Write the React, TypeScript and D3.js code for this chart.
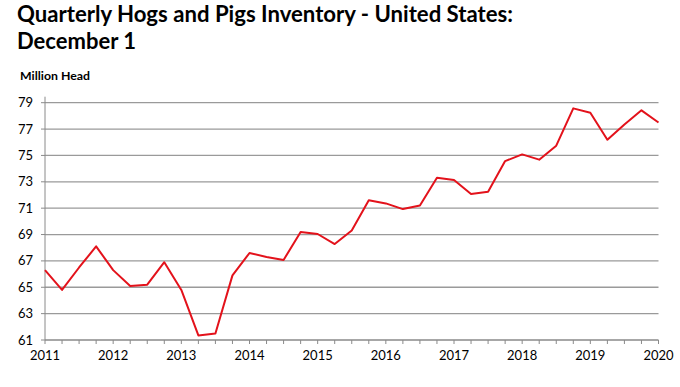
import React from "react";
import * as d3 from "d3";

const years = [2011, 2012, 2013, 2014, 2015, 2016, 2017, 2018, 2019, 2020];
const yTicks = [61, 63, 65, 67, 69, 71, 73, 75, 77, 79];
// Quarterly inventory (million head), 2011 Q1 .. 2020 Q1
const values = [
  66.3, 64.8, 66.5, 68.1,
  66.3, 65.1, 65.2, 66.9,
  64.8, 61.35, 61.5, 65.9,
  67.6, 67.3, 67.07, 69.2,
  69.04, 68.28, 69.3, 71.6,
  71.36, 70.93, 71.2, 73.3,
  73.13, 72.07, 72.25, 74.57,
  75.08, 74.68, 75.74, 78.57,
  78.24, 76.19, 77.35, 78.42,
  77.5,
];

export default function App() {
  const W = 680, H = 387;
  const x = d3.scaleLinear().domain([0, values.length - 1]).range([45, 658.5]);
  const y = d3.scaleLinear().domain([61, 79]).range([340, 102.7]);
  const line = d3.line<number>().x((_, i) => x(i)).y((d) => y(d));
  const quarterTicks = d3.range(values.length);
  const font = "Lato, 'Open Sans', sans-serif";
  return (
    <svg width={W} height={H} style={{ position: "absolute", left: 0, top: 0 }}>
      <rect width={W} height={H} fill="#fff" />
      <text x={17} y={22} fontFamily={font} fontWeight="bold" fontSize={22} fill="#000"
        textLength={496} lengthAdjust="spacingAndGlyphs">
        Quarterly Hogs and Pigs Inventory - United States:
      </text>
      <text x={17} y={49} fontFamily={font} fontWeight="bold" fontSize={22} fill="#000"
        textLength={119} lengthAdjust="spacingAndGlyphs">
        December 1
      </text>
      <text x={20} y={80} fontFamily={font} fontWeight="bold" fontSize={12} fill="#000"
        textLength={70} lengthAdjust="spacingAndGlyphs">
        Million Head
      </text>
      {yTicks.map((t) => (
        <g key={t}>
          {t !== 61 && (
            <line x1={45} x2={658.5} y1={y(t)} y2={y(t)} stroke="#9a9a9a" strokeWidth={1.3} />
          )}
          <line x1={41} x2={45} y1={y(t)} y2={y(t)} stroke="#8a8a8a" strokeWidth={1} />
          <text x={33} y={y(t) + 4.5} textAnchor="end" fontFamily={font} fontSize={13} fill="#000">
            {t}
          </text>
        </g>
      ))}
      <line x1={45} x2={45} y1={y(79) - 6} y2={y(61)} stroke="#8a8a8a" strokeWidth={1} />
      <line x1={45} x2={658.5} y1={y(61)} y2={y(61)} stroke="#8a8a8a" strokeWidth={1.3} />
      {quarterTicks.map((i) => (
        <line key={i} x1={x(i)} x2={x(i)} y1={y(61)} y2={y(61) + 4} stroke="#8a8a8a" strokeWidth={1} />
      ))}
      {years.map((yr, k) => (
        <text key={yr} x={x(k * 4)} y={360} textAnchor="middle" fontFamily={font} fontSize={13} fill="#000">
          {yr}
        </text>
      ))}
      <path d={line(values) || ""} fill="none" stroke="#e3121b" strokeWidth={2} strokeLinejoin="round" />
    </svg>
  );
}
